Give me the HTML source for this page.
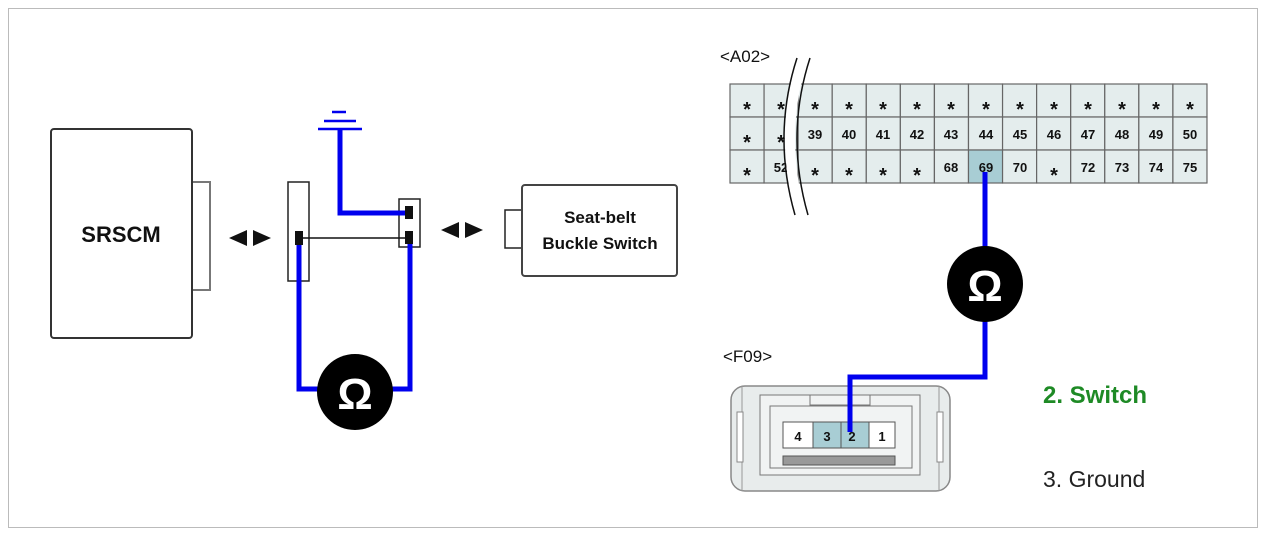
<!DOCTYPE html>
<html><head><meta charset="utf-8"><style>
html,body{margin:0;padding:0;background:#fff;}
svg{display:block;font-family:"Liberation Sans",Arial,sans-serif;}
.c{fill:#e4eded;stroke:#666;stroke-width:1.2}
.h{fill:#a8cdd4;stroke:#666;stroke-width:1.2}
.s{font-size:20px}
</style></head><body>
<svg width="1266" height="536" viewBox="0 0 1266 536" xmlns="http://www.w3.org/2000/svg">
<rect x="8.5" y="8.5" width="1249" height="519" fill="#fff" stroke="#bbb"/>
<rect x="192" y="182" width="18" height="108" fill="#fff" stroke="#777" stroke-width="2"/>
<rect x="51" y="129" width="141" height="209" rx="3" fill="#fff" stroke="#333" stroke-width="2"/>
<text x="121" y="242" font-size="22" font-weight="bold" text-anchor="middle" fill="#111">SRSCM</text>
<polygon points="229,238 247,230 247,246" fill="#111"/><polygon points="253,230 271,238 253,246" fill="#111"/>
<polygon points="441,230 459,222 459,238" fill="#111"/><polygon points="465,222 483,230 465,238" fill="#111"/>
<rect x="288" y="182" width="21" height="99" fill="#fff" stroke="#222" stroke-width="1.5"/>
<rect x="399" y="199" width="21" height="48" fill="#fff" stroke="#222" stroke-width="1.5"/>
<polyline points="340,130 340,213 408,213" fill="none" stroke="#0000ee" stroke-width="5"/>
<line x1="300" y1="238" x2="410" y2="238" stroke="#111" stroke-width="1.5"/>
<polyline points="299,240 299,389 330,389" fill="none" stroke="#0000ee" stroke-width="5"/>
<polyline points="410,240 410,389 380,389" fill="none" stroke="#0000ee" stroke-width="5"/>
<rect x="295" y="231" width="8" height="14" fill="#111"/>
<rect x="405" y="206" width="8" height="13" fill="#111"/>
<rect x="405" y="231" width="8" height="13" fill="#111"/>
<line x1="332" y1="112" x2="346" y2="112" stroke="#0000ee" stroke-width="2.5"/>
<line x1="324" y1="121" x2="356" y2="121" stroke="#0000ee" stroke-width="2.5"/>
<line x1="318" y1="129" x2="362" y2="129" stroke="#0000ee" stroke-width="2.5"/>
<circle cx="355" cy="392" r="38" fill="#000"/>
<text x="355" y="409" font-size="44" font-weight="bold" fill="#fff" text-anchor="middle">Ω</text>
<rect x="505" y="210" width="18" height="38" fill="#fff" stroke="#222" stroke-width="1.5"/>
<rect x="522" y="185" width="155" height="91" rx="3" fill="#fff" stroke="#444" stroke-width="2"/>
<text x="600" y="223" font-size="17" font-weight="bold" text-anchor="middle" fill="#111">Seat-belt</text>
<text x="600" y="249" font-size="17" font-weight="bold" text-anchor="middle" fill="#111">Buckle Switch</text>
<text x="720" y="62" font-size="17" fill="#111">&lt;A02&gt;</text>
<g>
<rect class="c" x="730" y="84" width="34.07" height="33"/><rect class="c" x="764.07" y="84" width="34.07" height="33"/><rect class="c" x="798.14" y="84" width="34.07" height="33"/><rect class="c" x="832.21" y="84" width="34.07" height="33"/><rect class="c" x="866.28" y="84" width="34.07" height="33"/><rect class="c" x="900.35" y="84" width="34.07" height="33"/><rect class="c" x="934.42" y="84" width="34.07" height="33"/><rect class="c" x="968.49" y="84" width="34.07" height="33"/><rect class="c" x="1002.56" y="84" width="34.07" height="33"/><rect class="c" x="1036.63" y="84" width="34.07" height="33"/><rect class="c" x="1070.7" y="84" width="34.07" height="33"/><rect class="c" x="1104.77" y="84" width="34.07" height="33"/><rect class="c" x="1138.84" y="84" width="34.07" height="33"/><rect class="c" x="1172.91" y="84" width="34.07" height="33"/>
<rect class="c" x="730" y="117" width="34.07" height="33"/><rect class="c" x="764.07" y="117" width="34.07" height="33"/><rect class="c" x="798.14" y="117" width="34.07" height="33"/><rect class="c" x="832.21" y="117" width="34.07" height="33"/><rect class="c" x="866.28" y="117" width="34.07" height="33"/><rect class="c" x="900.35" y="117" width="34.07" height="33"/><rect class="c" x="934.42" y="117" width="34.07" height="33"/><rect class="c" x="968.49" y="117" width="34.07" height="33"/><rect class="c" x="1002.56" y="117" width="34.07" height="33"/><rect class="c" x="1036.63" y="117" width="34.07" height="33"/><rect class="c" x="1070.7" y="117" width="34.07" height="33"/><rect class="c" x="1104.77" y="117" width="34.07" height="33"/><rect class="c" x="1138.84" y="117" width="34.07" height="33"/><rect class="c" x="1172.91" y="117" width="34.07" height="33"/>
<rect class="c" x="730" y="150" width="34.07" height="33"/><rect class="c" x="764.07" y="150" width="34.07" height="33"/><rect class="c" x="798.14" y="150" width="34.07" height="33"/><rect class="c" x="832.21" y="150" width="34.07" height="33"/><rect class="c" x="866.28" y="150" width="34.07" height="33"/><rect class="c" x="900.35" y="150" width="34.07" height="33"/><rect class="c" x="934.42" y="150" width="34.07" height="33"/><rect class="h" x="968.49" y="150" width="34.07" height="33"/><rect class="c" x="1002.56" y="150" width="34.07" height="33"/><rect class="c" x="1036.63" y="150" width="34.07" height="33"/><rect class="c" x="1070.7" y="150" width="34.07" height="33"/><rect class="c" x="1104.77" y="150" width="34.07" height="33"/><rect class="c" x="1138.84" y="150" width="34.07" height="33"/><rect class="c" x="1172.91" y="150" width="34.07" height="33"/>
</g>
<g font-size="13" font-weight="bold" text-anchor="middle" fill="#111">
<g class="s">
<text x="747" y="116">*</text><text x="781" y="116">*</text><text x="815" y="116">*</text><text x="849" y="116">*</text><text x="883" y="116">*</text><text x="917" y="116">*</text><text x="951" y="116">*</text><text x="986" y="116">*</text><text x="1020" y="116">*</text><text x="1054" y="116">*</text><text x="1088" y="116">*</text><text x="1122" y="116">*</text><text x="1156" y="116">*</text><text x="1190" y="116">*</text>
<text x="747" y="149">*</text><text x="781" y="149">*</text>
<text x="747" y="182">*</text><text x="815" y="182">*</text><text x="849" y="182">*</text><text x="883" y="182">*</text><text x="917" y="182">*</text><text x="1054" y="182">*</text>
</g>
<text x="815" y="139">39</text><text x="849" y="139">40</text><text x="883" y="139">41</text><text x="917" y="139">42</text><text x="951" y="139">43</text><text x="986" y="139">44</text><text x="1020" y="139">45</text><text x="1054" y="139">46</text><text x="1088" y="139">47</text><text x="1122" y="139">48</text><text x="1156" y="139">49</text><text x="1190" y="139">50</text>
<text x="781" y="172">52</text><text x="951" y="172">68</text><text x="986" y="172">69</text><text x="1020" y="172">70</text><text x="1088" y="172">72</text><text x="1122" y="172">73</text><text x="1156" y="172">74</text><text x="1190" y="172">75</text>
</g>
<path d="M803,58 Q778,135 801,215" fill="none" stroke="#fff" stroke-width="10"/>
<path d="M797,58 Q772,135 795,215" fill="none" stroke="#111" stroke-width="1.5"/>
<path d="M810,58 Q785,135 808,215" fill="none" stroke="#111" stroke-width="1.5"/>
<polyline points="985,172 985,250" fill="none" stroke="#0000ee" stroke-width="5"/>
<polyline points="985,315 985,377 850,377 850,432" fill="none" stroke="#0000ee" stroke-width="5"/>
<circle cx="985" cy="284" r="38" fill="#000"/>
<text x="985" y="301" font-size="44" font-weight="bold" fill="#fff" text-anchor="middle">Ω</text>
<text x="723" y="362" font-size="17" fill="#111">&lt;F09&gt;</text>
<rect x="731" y="386" width="219" height="105" rx="14" fill="#e8ecec" stroke="#888" stroke-width="1.5"/>
<line x1="742" y1="386" x2="742" y2="491" stroke="#999"/><line x1="939" y1="386" x2="939" y2="491" stroke="#999"/>
<rect x="737" y="412" width="6" height="50" fill="#fff" stroke="#888"/>
<rect x="937" y="412" width="6" height="50" fill="#fff" stroke="#888"/>
<path d="M760,395 H920 V475 H760 Z" fill="#f1f3f3" stroke="#777"/>
<path d="M810,395 V405 H870 V395" fill="none" stroke="#777"/>
<path d="M770,406 H912 V468 H770 Z" fill="none" stroke="#777"/>
<rect x="783" y="422" width="30" height="26" fill="#fff" stroke="#555"/>
<rect x="813" y="422" width="28" height="26" fill="#a8cdd4" stroke="#555"/>
<rect x="841" y="422" width="28" height="26" fill="#a8cdd4" stroke="#555"/>
<rect x="869" y="422" width="26" height="26" fill="#fff" stroke="#555"/>
<polyline points="850,378 850,432" fill="none" stroke="#0000ee" stroke-width="5"/>
<g font-size="13" font-weight="bold" text-anchor="middle" fill="#111">
<text x="798" y="441">4</text><text x="827" y="441">3</text><text x="852" y="441">2</text><text x="882" y="441">1</text></g>
<rect x="783" y="456" width="112" height="9" fill="#999" stroke="#555"/>
<text x="1043" y="403" font-size="24" font-weight="bold" fill="#1e8a25">2. Switch</text>
<text x="1043" y="487" font-size="23" fill="#222">3. Ground</text>
</svg>
</body></html>
